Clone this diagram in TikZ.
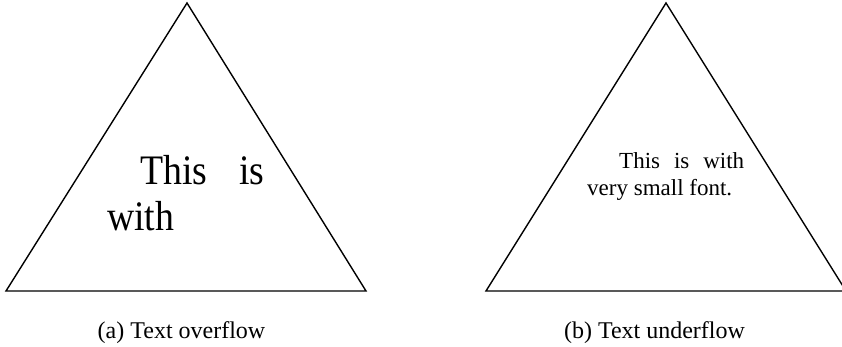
\documentclass[tikz,border=0pt]{standalone}
\usepackage{fontspec}
\setmainfont{Liberation Serif}
\begin{document}
\begin{tikzpicture}[x=1pt, y=1pt,
        tri/.style={draw, line width=1.4pt, line join=miter},
        bigtxt/.style={anchor=base west, inner sep=0pt, font=\fontsize{42}{46}\selectfont, xscale=0.9, transform shape},
        smalltxt/.style={anchor=base west, inner sep=0pt, font=\fontsize{23}{27}\selectfont},
        capt/.style={anchor=base, inner sep=0pt, font=\fontsize{24}{28}\selectfont}]
        \useasboundingbox (0,0) rectangle (842,346);
        \coordinate (aTop) at (187,343);
        \coordinate (aLeft) at (6,55);
        \coordinate (aRight) at (366,55);
        \coordinate (bTop) at (666,343);
        \coordinate (bLeft) at (486,55);
        \coordinate (bRight) at (846,55);

        \draw[tri] (aLeft) -- (aTop) -- (aRight) -- cycle;
        \draw[tri] (bLeft) -- (bTop) -- (bRight) -- cycle;

        \node[bigtxt] (overA) at (140,162) {\makebox[138pt][s]{This is}};
        \node[bigtxt] (overB) at (107,116) {with};
        \node[smalltxt] (underA) at (619,178) {\makebox[125pt][s]{This is with}};
        \node[smalltxt] (underB) at (587,151) {very small font.};

        \node[capt] (captA) at (181.5,8) {(a) Text overflow};
        \node[capt] (captB) at (654.5,8) {(b) Text underflow};
\end{tikzpicture}
\end{document}
